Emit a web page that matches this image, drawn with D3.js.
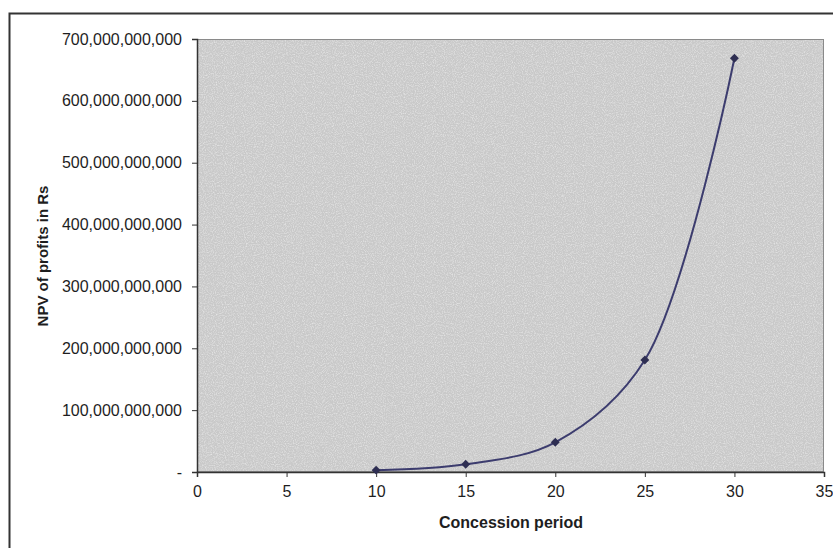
<!DOCTYPE html>
<html>
<head>
<meta charset="utf-8">
<title>NPV of profits vs concession period</title>
<script src="https://cdn.jsdelivr.net/npm/d3@7"></script>
<style>
  body { margin: 0; background: #fff; }
  svg { display: block; font-family: "Liberation Sans", Arial, sans-serif; }
</style>
</head>
<body>
<div id="chart"></div>
<script>
// values
var periods = [10, 15, 20, 25, 30];
var npv = [3e9, 12.5e9, 48e9, 181e9, 669e9];
var xTicks = [0, 5, 10, 15, 20, 25, 30, 35];
var yTicks = [0, 1e11, 2e11, 3e11, 4e11, 5e11, 6e11, 7e11];

var width = 833, height = 548;
var plot = { left: 197, top: 39, right: 824, bottom: 472 };

var svg = d3.select("#chart").append("svg")
  .attr("width", width)
  .attr("height", height);

// grainy scan texture
var defs = svg.append("defs");
var f = defs.append("filter").attr("id", "grain")
  .attr("x", 0).attr("y", 0).attr("width", 1).attr("height", 1);
f.append("feTurbulence").attr("type", "fractalNoise")
  .attr("baseFrequency", 0.9).attr("numOctaves", 2).attr("seed", 3);
f.append("feColorMatrix").attr("type", "matrix")
  .attr("values", "0 0 0 0 1  0 0 0 0 1  0 0 0 0 1  0 0 0 1.8 -0.75");

// outer chart frame (cut off on the right and bottom)
svg.append("path")
  .attr("d", "M9.5,548 V13.5 H833")
  .attr("fill", "none")
  .attr("stroke", "#333")
  .attr("stroke-width", 2);

var x = d3.scaleLinear().domain([0, 35]).range([plot.left, plot.right]);
var y = d3.scaleLinear().domain([0, 7e11]).range([plot.bottom, plot.top]);

// plot area
svg.append("rect")
  .attr("x", plot.left).attr("y", plot.top)
  .attr("width", plot.right - plot.left).attr("height", plot.bottom - plot.top)
  .attr("fill", "#c9c9c9");
svg.append("rect")
  .attr("x", plot.left).attr("y", plot.top)
  .attr("width", plot.right - plot.left).attr("height", plot.bottom - plot.top)
  .attr("filter", "url(#grain)")
  .attr("opacity", 0.6);
svg.append("rect")
  .attr("x", plot.left + 0.5).attr("y", plot.top + 0.5)
  .attr("width", plot.right - plot.left - 1).attr("height", plot.bottom - plot.top - 1)
  .attr("fill", "none")
  .attr("stroke", "#8a8a8a")
  .attr("stroke-width", 1);

// axes
var yAxis = d3.axisLeft(y).tickValues(yTicks).tickSize(5).tickPadding(10)
  .tickFormat(function(d) { return d === 0 ? "-" : d3.format(",")(d); });
var gy = svg.append("g").attr("transform", "translate(" + plot.left + ",0)").call(yAxis);

var xAxis = d3.axisBottom(x).tickValues(xTicks).tickSize(5).tickPadding(9);
var gx = svg.append("g").attr("transform", "translate(0," + plot.bottom + ")").call(xAxis);

[gx, gy].forEach(function(g) {
  g.select(".domain").attr("stroke", "#333").attr("stroke-width", 1.5);
  g.selectAll(".tick line").attr("stroke", "#333");
  g.selectAll(".tick text").attr("fill", "#1e1e1e").style("font-size", "16px")
    .style("font-family", "'Liberation Sans', Arial, sans-serif");
});

// axis titles
svg.append("text")
  .attr("x", 511)
  .attr("y", 528)
  .attr("text-anchor", "middle")
  .attr("font-size", 16).attr("font-weight", "bold").attr("fill", "#1e1e1e")
  .text("Concession period");

svg.append("text")
  .attr("transform", "translate(48,256) rotate(-90)")
  .attr("text-anchor", "middle")
  .attr("font-size", 15).attr("font-weight", "bold").attr("fill", "#1e1e1e")
  .text("NPV of profits in Rs");

// smoothed line with diamond markers
var pts = periods.map(function(p, i) { return [p, npv[i]]; });
var line = d3.line()
  .x(function(d) { return x(d[0]); })
  .y(function(d) { return y(d[1]); })
  .curve(d3.curveCatmullRom.alpha(0.5));

svg.append("path")
  .datum(pts)
  .attr("d", line)
  .attr("fill", "none")
  .attr("stroke", "#3c3c6e")
  .attr("stroke-width", 2);

svg.selectAll("path.marker").data(pts).enter().append("path")
  .attr("class", "marker")
  .attr("d", d3.symbol().type(d3.symbolSquare).size(40))
  .attr("transform", function(d) { return "translate(" + x(d[0]) + "," + y(d[1]) + ") rotate(45)"; })
  .attr("fill", "#2e2e52");
</script>
</body>
</html>
